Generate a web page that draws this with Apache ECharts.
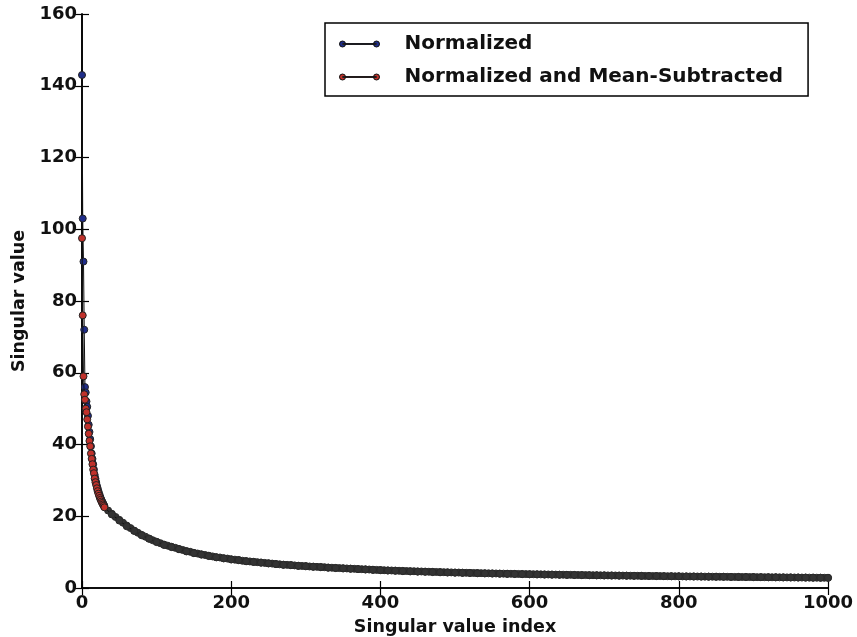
<!DOCTYPE html>
<html>
<head>
<meta charset="utf-8">
<script src="https://cdn.jsdelivr.net/npm/echarts@6/dist/echarts.min.js"></script>
<style>
  html, body { margin: 0; padding: 0; background: #fff; }
  #chart { width: 857px; height: 637px; }
</style>
</head>
<body>
<div id="chart"></div>
<script>
// 奇异值曲线（Normalized）
const normIdx = [
  0, 1, 2, 3, 4, 5, 6, 7, 8, 9, 10, 11, 12, 13, 14, 15, 16, 17, 18, 19, 20,
  21, 22, 23, 24, 25, 26, 27, 28, 29, 30,
  35, 40, 45, 50, 55, 60, 65, 70, 75, 80, 85, 90, 95, 100,
  105, 110, 115, 120, 125, 130, 135, 140, 145, 150,
  155, 160, 165, 170, 175, 180, 185, 190, 195, 200,
  205, 210, 215, 220, 225, 230, 235, 240, 245, 250,
  255, 260, 265, 270, 275, 280, 285, 290, 295, 300,
  305, 310, 315, 320, 325, 330, 335, 340, 345, 350,
  355, 360, 365, 370, 375, 380, 385, 390, 395, 400,
  405, 410, 415, 420, 425, 430, 435, 440, 445, 450,
  455, 460, 465, 470, 475, 480, 485, 490, 495, 500,
  505, 510, 515, 520, 525, 530, 535, 540, 545, 550,
  555, 560, 565, 570, 575, 580, 585, 590, 595, 600,
  605, 610, 615, 620, 625, 630, 635, 640, 645, 650,
  655, 660, 665, 670, 675, 680, 685, 690, 695, 700,
  705, 710, 715, 720, 725, 730, 735, 740, 745, 750,
  755, 760, 765, 770, 775, 780, 785, 790, 795, 800,
  805, 810, 815, 820, 825, 830, 835, 840, 845, 850,
  855, 860, 865, 870, 875, 880, 885, 890, 895, 900,
  905, 910, 915, 920, 925, 930, 935, 940, 945, 950,
  955, 960, 965, 970, 975, 980, 985, 990, 995, 1000
];
const normValues = [
  143, 103, 91, 72, 56, 54.5, 52, 50.5, 48, 45.5, 43.5, 41.5, 39.5, 37.5, 36, 34.5,
  33, 31.5, 30.5, 29.5, 28.5, 27.8, 27, 26.3, 25.7, 25.1, 24.6, 24.1, 23.7, 23.3, 22.9,
  21.6, 20.7, 19.8, 19.0, 18.2, 17.4, 16.7, 16.0, 15.4, 14.8, 14.3, 13.8, 13.3, 12.9,
  12.5, 12.1, 11.8, 11.5, 11.2, 10.9, 10.6, 10.3, 10.1, 9.8,
  9.6, 9.4, 9.2, 9.0, 8.8, 8.6, 8.5, 8.3, 8.2, 8.0,
  7.9, 7.8, 7.6, 7.5, 7.4, 7.3, 7.2, 7.1, 7.0, 6.9,
  6.8, 6.7, 6.6, 6.5, 6.45, 6.4, 6.3, 6.2, 6.15, 6.1,
  6.0, 5.95, 5.9, 5.85, 5.8, 5.7, 5.65, 5.6, 5.55, 5.5,
  5.45, 5.4, 5.35, 5.3, 5.25, 5.2, 5.15, 5.1, 5.05, 5.0,
  4.95, 4.9, 4.88, 4.85, 4.8, 4.77, 4.73, 4.7, 4.67, 4.63,
  4.6, 4.57, 4.53, 4.5, 4.47, 4.44, 4.41, 4.38, 4.35, 4.32,
  4.3, 4.27, 4.24, 4.22, 4.19, 4.17, 4.14, 4.12, 4.09, 4.07,
  4.05, 4.02, 4.0, 3.98, 3.96, 3.94, 3.92, 3.9, 3.88, 3.86,
  3.84, 3.82, 3.8, 3.78, 3.77, 3.75, 3.73, 3.71, 3.7, 3.68,
  3.66, 3.65, 3.63, 3.61, 3.6, 3.58, 3.57, 3.55, 3.54, 3.52,
  3.51, 3.49, 3.48, 3.46, 3.45, 3.44, 3.42, 3.41, 3.4, 3.38,
  3.37, 3.36, 3.34, 3.33, 3.32, 3.3, 3.29, 3.28, 3.27, 3.25,
  3.24, 3.23, 3.22, 3.21, 3.2, 3.18, 3.17, 3.16, 3.15, 3.14,
  3.13, 3.12, 3.11, 3.1, 3.09, 3.08, 3.07, 3.06, 3.05, 3.04,
  3.03, 3.02, 3.01, 3.0, 2.99, 2.98, 2.97, 2.96, 2.95, 2.94,
  2.93, 2.92, 2.91, 2.9, 2.89, 2.88, 2.87, 2.86, 2.85, 2.84
];

// 去均值后的曲线（Normalized and Mean-Subtracted）
const meanIdx = [
  0, 1, 2, 3, 4, 5, 6, 7, 8, 9, 10, 11, 12, 13, 14, 15, 16, 17, 18, 19, 20,
  21, 22, 23, 24, 25, 26, 27, 28, 29, 30,
  40, 50, 60, 70, 80, 90, 100, 110, 120, 130, 140, 150, 160, 170, 180, 190, 200,
  210, 220, 230, 240, 250, 260, 270, 280, 290, 300, 310, 320, 330, 340, 350,
  360, 370, 380, 390, 400, 410, 420, 430, 440, 450, 460, 470, 480, 490, 500,
  510, 520, 530, 540, 550, 560, 570, 580, 590, 600, 610, 620, 630, 640, 650,
  660, 670, 680, 690, 700, 710, 720, 730, 740, 750, 760, 770, 780, 790, 800,
  810, 820, 830, 840, 850, 860, 870, 880, 890, 900, 910, 920, 930, 940, 950,
  960, 970, 980, 990, 1000
];
const meanValues = [
  97.5, 76, 59, 54, 52.5, 50, 49, 47, 45, 43, 41, 39.5, 37.5, 36, 34.5, 33,
  32, 30.5, 29.5, 28.7, 27.8, 27, 26.3, 25.7, 25.1, 24.6, 24.1, 23.7, 23.3, 22.9, 22.5,
  20.5, 18.8, 17.2, 15.9, 14.7, 13.7, 12.8, 12.0, 11.4, 10.8, 10.2, 9.7, 9.3, 8.9, 8.55, 8.25, 7.95,
  7.75, 7.45, 7.25, 7.05, 6.85, 6.65, 6.45, 6.35, 6.15, 6.05, 5.9, 5.8, 5.65, 5.55, 5.45,
  5.35, 5.25, 5.15, 5.05, 4.97, 4.87, 4.78, 4.7, 4.62, 4.56, 4.5, 4.43, 4.37, 4.31, 4.26,
  4.21, 4.16, 4.11, 4.06, 4.02, 3.97, 3.93, 3.89, 3.85, 3.81, 3.78, 3.74, 3.71, 3.68, 3.64,
  3.61, 3.58, 3.55, 3.52, 3.5, 3.47, 3.44, 3.42, 3.39, 3.37, 3.34, 3.32, 3.3, 3.27, 3.25,
  3.22, 3.2, 3.18, 3.16, 3.14, 3.12, 3.1, 3.08, 3.06, 3.04, 3.02, 3.0, 2.98, 2.96, 2.94,
  2.92, 2.9, 2.88, 2.86, 2.84
];

const seriesNames = ['Normalized', 'Normalized and Mean-Subtracted'];
const markerColors = ['#1f2d8a', '#c0312b'];

const xTitle = 'Singular value index';
const yTitle = 'Singular value';

const font = 'DejaVu Sans';
const legendIcon = 'path://M3,4.6H37V5.4H3Z M0,5a3,3 0 1,0 6,0a3,3 0 1,0 -6,0Z M34,5a3,3 0 1,0 6,0a3,3 0 1,0 -6,0Z';

// 点很密的部分（>30）只看得到黑色描边，填充也用深色
const toPairs = (xs, ys, color) =>
  xs.map((x, i) => ({
    value: [x, ys[i]],
    itemStyle: x > 30 ? { color: '#333', borderColor: '#2a2a2a' } : { color: color },
  }));

const myChart = echarts.init(document.getElementById('chart'));

const tickStyle = { inside: true, length: 7, lineStyle: { color: '#000', width: 1.2 } };
const lineStyle = { color: '#000', width: 1.6 };

let option = {
  animation: false,
  backgroundColor: '#fff',
  grid: {
    left: 82,
    right: 29,
    top: 14,
    bottom: 49,
    outerBoundsMode: 'none',
  },
  legend: {
    orient: 'vertical',
    left: 325,
    top: 23,
    padding: [10, 25, 8, 14],
    itemGap: 11,
    itemWidth: 40,
    itemHeight: 6,
    borderColor: '#000',
    borderWidth: 1.5,
    borderRadius: 0,
    icon: legendIcon,
    textStyle: {
      fontFamily: font,
      fontWeight: 'bold',
      fontSize: 20,
      color: '#111',
      lineHeight: 22,
      padding: [0, 0, 0, 20],
    },
    data: seriesNames.map((n, i) => ({
      name: n,
      itemStyle: { color: markerColors[i], borderColor: '#111', borderWidth: 1 },
    })),
  },
  xAxis: [
    {
      type: 'value',
      min: 0,
      max: 1000,
      interval: 200,
      name: xTitle,
      nameLocation: 'middle',
      nameGap: 30,
      nameTextStyle: { fontFamily: font, fontWeight: 'bold', fontSize: 17.5, color: '#111' },
      axisLine: { show: true, lineStyle: lineStyle },
      axisTick: tickStyle,
      axisLabel: {
        fontFamily: font,
        fontWeight: 'bold',
        fontSize: 18,
        color: '#111',
        margin: 6,
        formatter: (v) => String(v),
      },
      splitLine: { show: false },
    },
    {
      type: 'value',
      position: 'top',
      min: 0,
      max: 1000,
      interval: 200,
      axisLine: { show: true, lineStyle: lineStyle },
      axisTick: tickStyle,
      axisLabel: { show: false },
      splitLine: { show: false },
    },
  ],
  yAxis: [
    {
      type: 'value',
      min: 0,
      max: 160,
      interval: 20,
      name: yTitle,
      nameLocation: 'middle',
      nameGap: 43,
      nameTextStyle: { fontFamily: font, fontWeight: 'bold', fontSize: 17.5, color: '#111' },
      axisLine: { show: true, lineStyle: lineStyle },
      axisTick: tickStyle,
      axisLabel: { fontFamily: font, fontWeight: 'bold', fontSize: 18, color: '#111', margin: 5 },
      splitLine: { show: false },
    },
    {
      type: 'value',
      position: 'right',
      min: 0,
      max: 160,
      interval: 20,
      axisLine: { show: true, lineStyle: lineStyle },
      axisTick: tickStyle,
      axisLabel: { show: false },
      splitLine: { show: false },
    },
  ],
  series: [
    {
      name: seriesNames[0],
      type: 'line',
      data: toPairs(normIdx, normValues, markerColors[0]),
      symbol: 'circle',
      symbolSize: 7,
      showAllSymbol: true,
      lineStyle: { color: '#111', width: 1 },
      itemStyle: { color: markerColors[0], borderColor: '#222', borderWidth: 1 },
      z: 2,
    },
    {
      name: seriesNames[1],
      type: 'line',
      data: toPairs(meanIdx, meanValues, markerColors[1]),
      symbol: 'circle',
      symbolSize: 7,
      showAllSymbol: true,
      lineStyle: { color: '#111', width: 1 },
      itemStyle: { color: markerColors[1], borderColor: '#222', borderWidth: 1 },
      z: 3,
    },
  ],
};

myChart.setOption(option);
</script>
</body>
</html>
